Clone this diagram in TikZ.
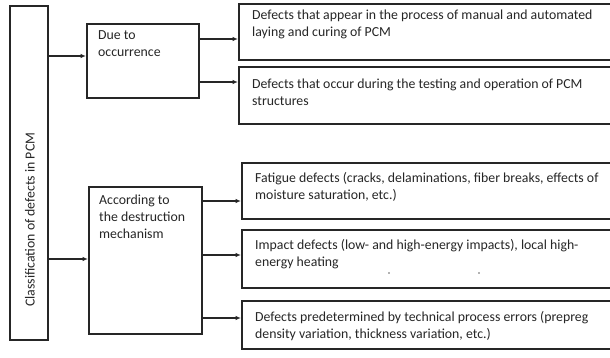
\documentclass[tikz,border=0pt]{standalone}
\usepackage{fontspec}
\setmainfont{Carlito}
\usetikzlibrary{arrows.meta,calc}
\begin{document}
\begin{tikzpicture}[x=1pt,y=-1pt,
  box/.style={draw=black!85, line width=1.5pt, anchor=north west, inner sep=0pt, fill=white},
  lbl/.style={anchor=north west, inner sep=0pt, align=left, text=black!85,
     font=\fontsize{13.8}{17}\selectfont},
  arr/.style={draw=black!85, line width=1.1pt, -{Latex[length=5.5pt,width=4.5pt]}}]
\useasboundingbox (0,0) rectangle (610,357);
% left box
\node[box, minimum width=38pt, minimum height=334pt] (L) at (9,5) {};
\node[anchor=west, rotate=90, inner sep=0pt, text=black!85,
  font=\fontsize{13.8}{16}\selectfont] (Lt) at (30,307) {Classification of defects in PCM};
% middle boxes
\node[box, minimum width=112pt, minimum height=74pt] (D) at (86,23) {};
\node[lbl] (Dt) at (98,30) {Due to\\occurrence};
\node[box, minimum width=113pt, minimum height=147pt] (A) at (88,186) {};
\node[lbl] (At) at (99,195) {According to\\the destruction\\mechanism};
% right boxes
\node[box, minimum width=373pt, minimum height=56pt] (B1) at (238,3) {};
\node[lbl] (B1t) at (252,10) {Defects that appear in the process of manual and automated\\laying and curing of PCM};
\node[box, minimum width=373pt, minimum height=57pt] (B2) at (238,66) {};
\node[lbl] (B2t) at (252,79) {Defects that occur during the testing and operation of PCM\\structures};
\node[box, minimum width=370pt, minimum height=56pt] (B3) at (241,162) {};
\node[lbl] (B3t) at (255,172) {Fatigue defects (cracks, delaminations, fiber breaks, effects of\\moisture saturation, etc.)};
\node[box, minimum width=370pt, minimum height=58pt] (B4) at (241,229) {};
\node[lbl] (B4t) at (255,239) {Impact defects (low- and high-energy impacts), local high-\\energy heating};
\node[box, minimum width=370pt, minimum height=48pt] (B5) at (241,300) {};
\node[lbl] (B5t) at (255,311) {Defects predetermined by technical process errors (prepreg\\density variation, thickness variation, etc.)};
% small dots
\fill[black!60] (389,273) circle (0.8pt);
\fill[black!60] (479,273) circle (0.8pt);
% arrows
\draw[arr] (L.east |- 0,56) -- (D.west |- 0,56);
\draw[arr] (L.east |- 0,259) -- (A.west |- 0,259);
\draw[arr] (D.east |- 0,39) -- (B1.west |- 0,39);
\draw[arr] (D.east |- 0,82) -- (B2.west |- 0,82);
\draw[arr] (A.east |- 0,201) -- (B3.west |- 0,201);
\draw[arr] (A.east |- 0,255) -- (B4.west |- 0,255);
\draw[arr] (A.east |- 0,318) -- (B5.west |- 0,318);
\end{tikzpicture}
\end{document}
